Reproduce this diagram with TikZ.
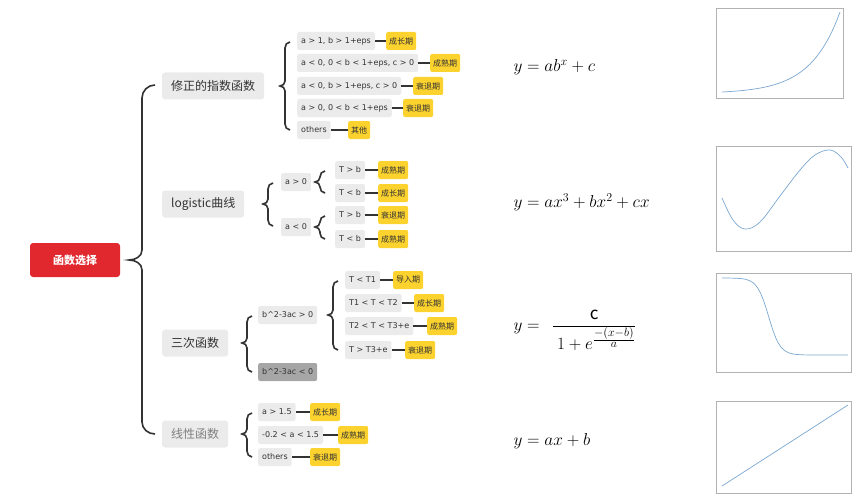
\documentclass[tikz,border=0pt]{standalone}
\usepackage{fontspec}
\setmainfont{Noto Sans CJK SC}
\newfontfamily\leaffont{DejaVu Sans}
\definecolor{redb}{HTML}{E0282E}
\definecolor{greyb}{HTML}{EBEBEB}
\definecolor{darkg}{HTML}{A6A6A6}
\definecolor{yel}{HTML}{FCD22E}
\definecolor{ln}{HTML}{333333}
\definecolor{plotc}{HTML}{7BA7D0}
\newcommand\mybrace[4]{\draw[braceline] (#1+7,#2) to[out=180,in=90] (#1+2,#2+6) -- (#1+2,#3-5) to[out=-90,in=0] (#1-3,#3) to[out=0,in=90] (#1+2,#3+5) -- (#1+2,#4-6) to[out=-90,in=180] (#1+7,#4);}
\begin{document}
\begin{tikzpicture}[x=1pt,y=-1pt,
  braceline/.style={line width=1.6pt,draw=ln},
  root/.style={fill=redb,text=white,rounded corners=3pt,font=\fontsize{11}{12}\selectfont\bfseries,minimum width=90pt,minimum height=34pt,inner sep=0pt},
  lvl/.style={fill=greyb,text=ln,rounded corners=3pt,font=\fontsize{12}{13}\selectfont,minimum height=27pt,inner xsep=9pt,anchor=west},
  leaf/.style={fill=greyb,text=ln,rounded corners=2pt,font=\leaffont\fontsize{8}{9}\selectfont,minimum height=18pt,inner xsep=4pt,anchor=west},
  tag/.style={fill=yel,text=ln,rounded corners=2pt,font=\fontsize{8}{9}\selectfont,minimum height=18pt,inner xsep=3pt,anchor=west},
  con/.style={line width=1.6pt,draw=ln},
  frm/.style={font=\fontsize{17}{18}\selectfont,anchor=west},
  pbox/.style={draw=gray!60,line width=0.4pt},
  curve/.style={draw=plotc,line width=0.7pt}]
\useasboundingbox (0,0) rectangle (866,500);
\node[root] (root) at (75,260) {函数选择};
\draw[braceline] (155,85) to[out=180,in=90] (142,98) -- (142,250) to[out=-90,in=0] (129,260) to[out=0,in=90] (142,270) -- (142,422) to[out=-90,in=180] (155,434);
\node[lvl] (g1) at (162,86) {修正的指数函数};
\node[lvl] (g2) at (162,204) {logistic曲线};
\node[lvl] (g3) at (162,343) {三次函数};
\node[lvl,text=gray] (g4) at (162,434) {线性函数};
% group 1
\mybrace{283}{42}{86}{130}
\node[leaf] (a1) at (297,41) {a > 1, b > 1+eps};
\node[leaf] (a2) at (297,63) {a < 0, 0 < b < 1+eps, c > 0};
\node[leaf] (a3) at (297,86) {a < 0, b > 1+eps, c > 0};
\node[leaf] (a4) at (297,108) {a > 0, 0 < b < 1+eps};
\node[leaf] (a5) at (297,130) {others};
\node[tag] (t1) at (386,41) {成长期};
\node[tag] (t2) at (430,63) {成熟期};
\node[tag] (t3) at (413,86) {衰退期};
\node[tag] (t4) at (403,108) {衰退期};
\node[tag] (t5) at (348,130) {其他};
\foreach \i in {1,...,5}{\draw[con] (a\i.east) -- (t\i.west);}
% group 2
\mybrace{266}{183}{204}{226}
\node[leaf] (b1) at (281,182) {a > 0};
\node[leaf] (b2) at (281,227) {a < 0};
\mybrace{318}{171}{182}{193}
\mybrace{318}{216}{227}{239}
\node[leaf] (c1) at (335,170) {T > b};
\node[leaf] (c2) at (335,193) {T < b};
\node[leaf] (c3) at (335,215) {T > b};
\node[leaf] (c4) at (335,239) {T < b};
\node[tag] (u1) at (378,170) {成熟期};
\node[tag] (u2) at (378,193) {成长期};
\node[tag] (u3) at (378,215) {衰退期};
\node[tag] (u4) at (378,239) {成熟期};
\foreach \i in {1,...,4}{\draw[con] (c\i.east) -- (u\i.west);}
% group 3
\mybrace{245}{316}{343}{372}
\node[leaf] (d1) at (258,315) {b\^{}2-3ac > 0};
\node[leaf,fill=darkg] (d2) at (258,372) {b\^{}2-3ac < 0};
\mybrace{331}{281}{315}{350}
\node[leaf] (e1) at (345,280) {T < T1};
\node[leaf] (e2) at (345,303) {T1 < T < T2};
\node[leaf] (e3) at (345,326) {T2 < T < T3+e};
\node[leaf] (e4) at (345,350) {T > T3+e};
\node[tag] (v1) at (393,280) {导入期};
\node[tag] (v2) at (414,303) {成长期};
\node[tag] (v3) at (427,326) {成熟期};
\node[tag] (v4) at (405,350) {衰退期};
\foreach \i in {1,...,4}{\draw[con] (e\i.east) -- (v\i.west);}
% group 4
\mybrace{245}{413}{434}{457}
\node[leaf] (f1) at (258,412) {a > 1.5};
\node[leaf] (f2) at (258,435) {-0.2 < a < 1.5};
\node[leaf] (f3) at (258,457) {others};
\node[tag] (w1) at (310,412) {成长期};
\node[tag] (w2) at (338,435) {成熟期};
\node[tag] (w3) at (310,457) {衰退期};
\foreach \i in {1,...,3}{\draw[con] (f\i.east) -- (w\i.west);}
% formulas
\node[frm] (m1) at (510,67) {$y=ab^x+c$};
\node[frm] (m2) at (510,202) {$y=ax^3+bx^2+cx$};
\node[frm] (m3) at (510,330) {$\displaystyle y=\ \ \frac{\mathrm{c}}{\ 1+e^{\frac{\scriptstyle -(x-b)}{\scriptstyle a}}}$};
\node[frm] (m4) at (510,441) {$y=ax+b$};
% plots
\draw[pbox] (716,8) rectangle (843,98);
\draw[curve] plot[domain=0:1,samples=40] ({722+118*\x},{92-80*(exp(4*\x)-1)/(exp(4)-1)});
\draw[pbox] (716,146) rectangle (851,251);
\draw[curve] plot[smooth,tension=0.6] coordinates {(722,198) (733,220) (745,229) (760,222) (780,196) (800,170) (815,155) (830,150) (841,157) (848,168)};
\draw[pbox] (716,273) rectangle (851,372);
\draw[curve] plot[domain=0:1,samples=50] ({722+126*\x},{278+77/(1+exp(-(\x-0.37)*22))});
\draw[pbox] (716,401) rectangle (851,493);
\draw[curve] (722,486) -- (848,405);
\end{tikzpicture}
\end{document}
